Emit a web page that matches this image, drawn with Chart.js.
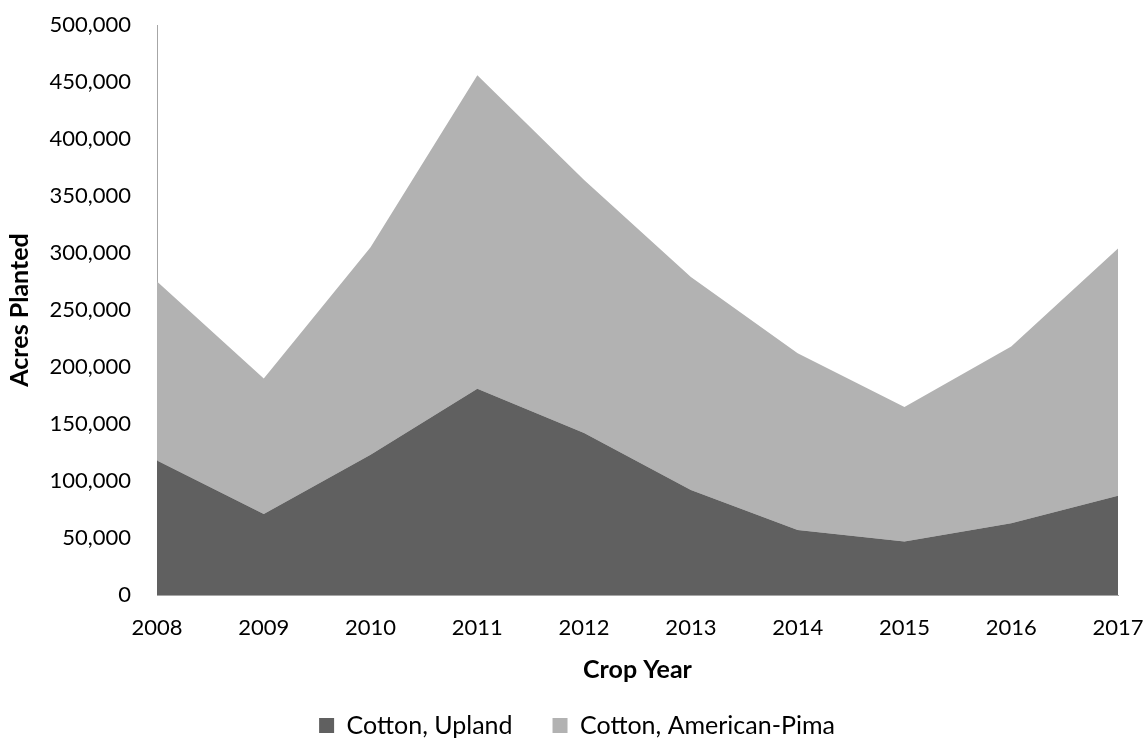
<!DOCTYPE html>
<html>
<head>
<meta charset="utf-8">
<script src="https://cdn.jsdelivr.net/npm/chart.js@4/dist/chart.umd.min.js"></script>
<style>
    html, body { margin: 0; padding: 0; background: #ffffff; }
    #wrap { width: 1146px; height: 752px; }
</style>
</head>
<body>
<div id="wrap"><canvas id="areaChart" width="1146" height="752"></canvas></div>
<script>
// crop years on the x axis
const years = ["2008", "2009", "2010", "2011", "2012", "2013", "2014", "2015", "2016", "2017"];

// acres planted
const upland = [118000, 71000, 123000, 181000, 142000, 92000, 57000, 47000, 63000, 87000];
const pima = [157000, 119000, 182000, 275000, 222000, 187000, 155000, 118000, 155000, 217000];

const seriesNames = ["Cotton, Upland", "Cotton, American-Pima"];
const seriesColors = ["#606060", "#b2b2b2"];

const yMax = 500000;
const yStep = 50000;

const fontFamily = "Lato, 'Open Sans', sans-serif";

// ==========================
// STACKED AREA CHART
// ==========================
new Chart(document.getElementById("areaChart"), {

    type: "line",

    data: {
        labels: years,
        datasets: [
            {
                label: seriesNames[0],
                data: upland,
                fill: "origin",
                backgroundColor: seriesColors[0],
                borderColor: seriesColors[0],
                borderWidth: 0,
                pointRadius: 0,
                tension: 0
            },
            {
                label: seriesNames[1],
                data: pima,
                fill: "-1",
                backgroundColor: seriesColors[1],
                borderColor: seriesColors[1],
                borderWidth: 0,
                pointRadius: 0,
                tension: 0
            }
        ]
    },

    options: {
        responsive: false,
        animation: false,

        // left padding shifts the centred legend, the y axis box makes up the rest
        layout: {
            padding: { top: 25, right: 28, left: 36, bottom: 4 }
        },

        scales: {
            x: {
                offset: false,
                grid: { display: false, drawTicks: false },
                border: { display: true, color: "#a6a6a6", width: 1 },
                ticks: {
                    color: "#000",
                    padding: 20,
                    maxRotation: 0,
                    autoSkip: false,
                    font: { family: fontFamily, size: 22 }
                },
                title: {
                    display: true,
                    text: "Crop Year",
                    color: "#000",
                    padding: { top: 0, bottom: -12 },
                    font: { family: fontFamily, size: 25, weight: "bold" }
                },
                afterFit: function (scale) {
                    scale.height = 78;
                    scale.paddingLeft = 0;
                    scale.paddingRight = 0;
                }
            },
            y: {
                stacked: true,
                min: 0,
                max: yMax,
                grid: { display: false, drawTicks: false },
                border: { display: true, color: "#a6a6a6", width: 1 },
                ticks: {
                    stepSize: yStep,
                    color: "#000",
                    padding: 26,
                    font: { family: fontFamily, size: 22 },
                    callback: function (value) {
                        return Number(value).toLocaleString("en-US");
                    }
                },
                title: {
                    display: true,
                    text: "Acres Planted",
                    color: "#000",
                    padding: { top: -31, bottom: 0 },
                    font: { family: fontFamily, size: 25, weight: "bold" }
                },
                afterFit: function (scale) {
                    scale.width = 121;
                    scale.paddingTop = 0;
                    scale.paddingBottom = 0;
                }
            }
        },

        plugins: {
            legend: {
                position: "bottom",
                labels: {
                    boxWidth: 15,
                    boxHeight: 15,
                    padding: 40,
                    color: "#000",
                    font: { family: fontFamily, size: 25 }
                }
            },
            tooltip: { enabled: false }
        }
    }

});
</script>
</body>
</html>
